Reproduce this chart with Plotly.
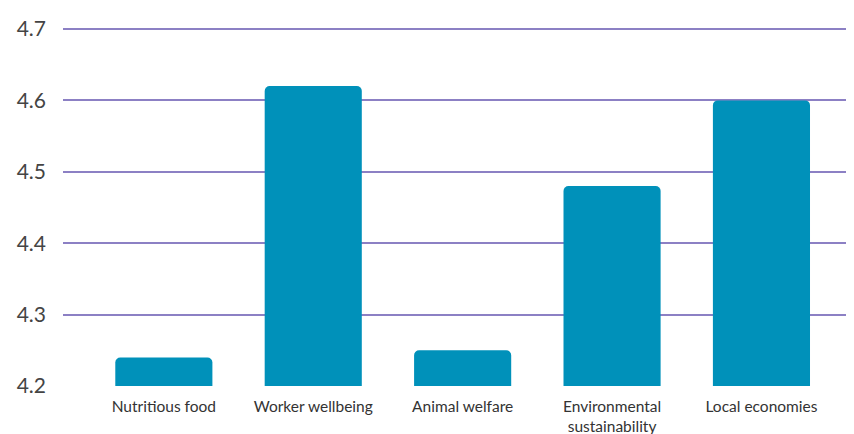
import plotly.graph_objects as go

categories = ["Nutritious food", "Worker wellbeing", "Animal welfare",
              "Environmental<br>sustainability", "Local economies"]
values = [4.24, 4.62, 4.25, 4.48, 4.60]
y_ticks = [4.2, 4.3, 4.4, 4.5, 4.6, 4.7]

fig = go.Figure(go.Bar(
    x=list(range(len(categories))), y=values,
    marker=dict(color="#0091BA", line=dict(width=0), cornerradius=5),
    width=0.65,
))

# the page adds an 8px body margin, so offsets compensate for it
fig.update_layout(
    width=854, height=434,
    margin=dict(l=55, r=0, t=17, b=56),
    paper_bgcolor="white", plot_bgcolor="white",
    font=dict(family="Lato, 'Open Sans', sans-serif", color="#333333"),
    showlegend=False,
    xaxis=dict(
        tickmode="array", tickvals=list(range(len(categories))), ticktext=categories,
        range=[-0.675, 4.673], showgrid=False, zeroline=False, showline=False,
        tickfont=dict(size=15.5, color="#333333"), ticks="", ticklabelstandoff=9,
        automargin=False,
    ),
    yaxis=dict(
        range=[4.2, 4.7056], tickvals=y_ticks, ticktext=[f"{v:.1f}" for v in y_ticks],
        showgrid=True, gridcolor="#8C80C4", gridwidth=2, zeroline=False, showline=False,
        tickfont=dict(size=21, color="#444444"), ticks="", ticklabelstandoff=16,
        automargin=False,
    ),
)

fig.write_html("out.html")
